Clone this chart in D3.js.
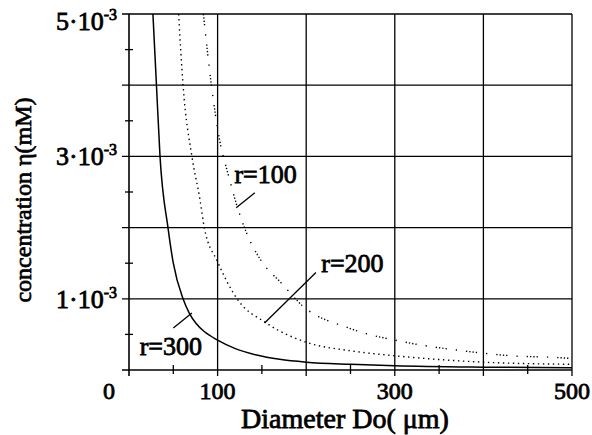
<!DOCTYPE html>
<html>
<head>
<meta charset="utf-8">
<script src="https://cdn.jsdelivr.net/npm/d3@7"></script>
<style>
  body { margin: 0; background: #fff; }
</style>
</head>
<body>
<div id="chart"></div>
<script>
// values (Do in um, eta in 1e-3 mM)
var r300D = [27, 31, 35, 44, 50, 61, 68, 76, 85, 100, 120, 144, 170, 200, 250, 300, 400, 500];
var r300C = [5.0, 4.0, 3.0, 2.0, 1.5, 1.0, 0.8, 0.65, 0.54, 0.42, 0.3, 0.21, 0.15, 0.11, 0.08, 0.06, 0.04, 0.03];

var r200D = [56, 61, 71, 80, 85, 100, 122, 155, 200, 250, 300, 400, 500];
var r200C = [5.0, 4.0, 3.0, 2.4, 2.0, 1.52, 1.0, 0.66, 0.39, 0.27, 0.2, 0.11, 0.08];

var r100D = [84, 93, 102, 113, 122, 136, 150, 172, 196, 248, 312, 370, 431, 490, 500];
var r100C = [5.0, 4.0, 3.25, 2.7, 2.3, 1.83, 1.52, 1.22, 0.9, 0.59, 0.39, 0.28, 0.2, 0.17, 0.16];

var xTickLabels = [0, 100, 300, 500];
var yTickLabels = [1, 3, 5];

// curve labels and their leader lines, in data units
var labelNames = ["r=100", "r=200", "r=300"];
var labelPos = [[119, 2.63], [217, 1.38], [12, 0.21]];
var leaderFrom = [[142, 2.49], [211, 1.37], [50, 0.59]];
var leaderTo = [[121, 2.28], [153, 0.66], [71, 0.8]];

var serif = "'Liberation Serif', 'DejaVu Serif', serif";

var svgWidth = 592, svgHeight = 435;
var margin = {top: 14, right: 20, bottom: 65, left: 129};
var w = svgWidth - margin.left - margin.right;
var h = svgHeight - margin.top - margin.bottom;

var svg = d3.select("#chart").append("svg")
  .attr("width", svgWidth)
  .attr("height", svgHeight)
  .style("font-family", serif);

var g = svg.append("g")
  .attr("transform", `translate(${margin.left},${margin.top})`);

var x = d3.scaleLinear().domain([0, 500]).range([0, w]);
var y = d3.scaleLinear().domain([0, 5]).range([h, 0]);

// grid
g.selectAll(".vgrid").data(d3.range(100, 501, 100)).enter().append("line")
  .attr("x1", d => x(d)).attr("x2", d => x(d))
  .attr("y1", 0).attr("y2", h + 6)
  .attr("stroke", "#000").attr("stroke-width", 1.3);
g.selectAll(".hgrid").data(d3.range(1, 6, 1)).enter().append("line")
  .attr("x1", -7).attr("x2", w)
  .attr("y1", d => y(d)).attr("y2", d => y(d))
  .attr("stroke", "#000").attr("stroke-width", 1.3);

// minor ticks
g.selectAll(".xminor").data(d3.range(50, 500, 100)).enter().append("line")
  .attr("x1", d => x(d)).attr("x2", d => x(d))
  .attr("y1", h - 5).attr("y2", h + 4)
  .attr("stroke", "#000").attr("stroke-width", 1.3);
g.selectAll(".yminor").data(d3.range(0.5, 5, 1)).enter().append("line")
  .attr("x1", -4).attr("x2", 4)
  .attr("y1", d => y(d)).attr("y2", d => y(d))
  .attr("stroke", "#000").attr("stroke-width", 1.3);

// axes
g.append("line").attr("x1", 0).attr("x2", 0).attr("y1", 0).attr("y2", h + 6)
  .attr("stroke", "#000").attr("stroke-width", 1.6);
g.append("line").attr("x1", -7).attr("x2", w).attr("y1", h).attr("y2", h)
  .attr("stroke", "#000").attr("stroke-width", 1.6);

// curves
g.append("clipPath").attr("id", "clip").append("rect")
  .attr("x", 0).attr("y", 0).attr("width", w).attr("height", h);

var line = d3.line()
  .x(d => x(d[0]))
  .y(d => y(d[1]))
  .curve(d3.curveMonotoneX);

function pts(ds, cs) { return ds.map((d, i) => [d, cs[i]]); }

var curves = g.append("g").attr("clip-path", "url(#clip)");
curves.append("path").datum(pts(r300D, r300C))
  .attr("d", line).attr("fill", "none").attr("stroke", "#000").attr("stroke-width", 1.5);
curves.append("path").datum(pts(r200D, r200C))
  .attr("d", line).attr("fill", "none").attr("stroke", "#000").attr("stroke-width", 1.4)
  .attr("stroke-dasharray", "1.4,3.6");
curves.append("path").datum(pts(r100D, r100C))
  .attr("d", line).attr("fill", "none").attr("stroke", "#000").attr("stroke-width", 1.4)
  .attr("stroke-dasharray", "1.3,2,1.3,2,1.3,2,1.3,9,1.3,9");

// leader lines and labels
labelNames.forEach((name, i) => {
  g.append("line")
    .attr("x1", x(leaderFrom[i][0])).attr("y1", y(leaderFrom[i][1]))
    .attr("x2", x(leaderTo[i][0])).attr("y2", y(leaderTo[i][1]))
    .attr("stroke", "#000").attr("stroke-width", 1.3);
  g.append("text")
    .attr("x", x(labelPos[i][0])).attr("y", y(labelPos[i][1]))
    .style("font-size", "26px")
    .attr("stroke", "#000").attr("stroke-width", 0.8)
    .text(name);
});

// tick labels
g.selectAll(".xlab").data(xTickLabels).enter().append("text")
  .attr("x", d => d === 0 ? x(d) - 20 : x(d))
  .attr("y", h + 29)
  .attr("text-anchor", "middle")
  .style("font-size", "24px")
  .attr("stroke", "#000").attr("stroke-width", 0.8)
  .text(d => d);

var yl = g.selectAll(".ylab").data(yTickLabels).enter().append("text")
  .attr("x", -12)
  .attr("y", d => d === 5 ? y(d) + 16 : y(d) + 9)
  .attr("text-anchor", "end")
  .style("font-size", "26px")
  .attr("stroke", "#000").attr("stroke-width", 0.8);
yl.append("tspan").text(d => d + "\u00b710");
yl.append("tspan").attr("dy", -10).style("font-size", "16px").text("-3");

// axis titles
svg.append("text")
  .attr("x", 345).attr("y", 428)
  .attr("text-anchor", "middle")
  .style("font-size", "28px")
  .attr("stroke", "#000").attr("stroke-width", 0.8)
  .text("Diameter  Do( \u03bcm)");

svg.append("text")
  .attr("transform", "translate(31,200) rotate(-90)")
  .attr("text-anchor", "middle")
  .style("font-size", "24px")
  .attr("stroke", "#000").attr("stroke-width", 0.7)
  .text("concentration  \u03b7(mM)");
</script>
</body>
</html>
